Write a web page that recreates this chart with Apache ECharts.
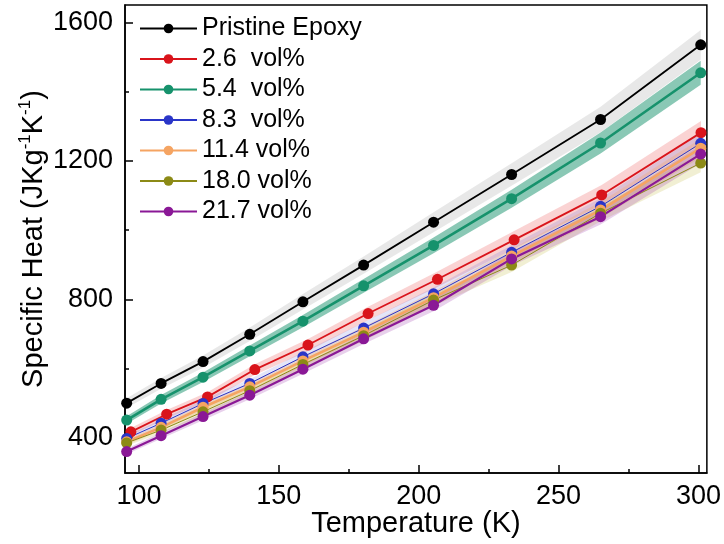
<!DOCTYPE html>
<html>
<head>
<meta charset="utf-8">
<script src="https://cdn.jsdelivr.net/npm/echarts@6/dist/echarts.min.js"></script>
<style>
  html, body { margin: 0; padding: 0; background: #fff; }
  #chart { width: 724px; height: 544px; }
</style>
</head>
<body>
<div id="chart"></div>
<script>
// temperatures (K)
const tempCommon = [95.6, 107.9, 122.9, 139.6, 158.6, 180.3, 205.3, 233.2, 265.0, 300.8]
const tempRed = [97.1, 109.9, 124.5, 141.4, 160.4, 181.9, 206.7, 234.1, 265.4, 300.9]

// specific heat (J kg-1 K-1)
const pristine = [500, 557, 620, 699, 793, 899, 1023, 1161, 1320, 1536]
const vol26 = [417, 468, 518, 597, 668, 759, 858, 972, 1102, 1282]
const vol54 = [451, 511, 575, 651, 737, 839, 956, 1091, 1252, 1455]
const vol83 = [398, 442, 499, 557, 634, 717, 816, 936, 1069, 1251]
const vol114 = [388, 430, 488, 547, 622, 705, 805, 925, 1058, 1237]
const vol180 = [385, 422, 475, 536, 612, 695, 798, 899, 1049, 1194]
const vol217 = [360, 406, 461, 523, 598, 686, 783, 917, 1039, 1220]

const names = ['Pristine Epoxy', '2.6  vol%', '5.4  vol%', '8.3  vol%', '11.4 vol%', '18.0 vol%', '21.7 vol%']
const values = [pristine, vol26, vol54, vol83, vol114, vol180, vol217]
const temps = [tempCommon, tempRed, tempCommon, tempCommon, tempCommon, tempCommon, tempCommon]
// half width of the shaded band, as a fraction of the value
const bandFrac = [0.028, 0.026, 0.024, 0.022, 0.022, 0.022, 0.022]

const xTicks = [100, 150, 200, 250, 300]
const xMinorTicks = [125, 175, 225, 275]
const yTicks = [400, 800, 1200, 1600]
const yMinorTicks = [600, 1000, 1400]

const lineColors = ['#000000', '#d9141b', '#16926c', '#2a35c8', '#f5a462', '#8c8a16', '#8a1896']
const bandColors = ['rgba(0,0,0,0.09)', 'rgba(235,80,80,0.25)', 'rgba(22,146,108,0.5)',
  'rgba(60,70,220,0.14)', 'rgba(245,164,98,0.3)', 'rgba(200,190,80,0.25)', 'rgba(150,40,170,0.22)']
const lineWidths = [1.8, 1.8, 2.6, 1, 2.6, 1, 2.2]

const chart = echarts.init(document.getElementById('chart'))
const font = 'Liberation Sans, Arial, sans-serif'

// shaded bands: one polygon per series, drawn through the axis scales
const bandSeries = {
  type: 'custom',
  silent: true,
  z: 1,
  data: values.map((v, i) => [i]),
  renderItem: function (params, api) {
    const i = api.value(0)
    const upper = []
    const lower = []
    values[i].forEach((v, k) => {
      upper.push(api.coord([temps[i][k], v * (1 + bandFrac[i])]))
      lower.push(api.coord([temps[i][k], v * (1 - bandFrac[i])]))
    })
    return {
      type: 'polygon',
      shape: { points: upper.concat(lower.reverse()) },
      style: { fill: bandColors[i] }
    }
  }
}

const lineSeries = values.map((vals, i) => ({
  name: names[i],
  type: 'line',
  data: vals.map((v, k) => [temps[i][k], v]),
  symbol: 'circle',
  symbolSize: 11,
  color: lineColors[i],
  lineStyle: { color: lineColors[i], width: lineWidths[i] },
  itemStyle: { color: lineColors[i] },
  z: 3
}))

const axisLineStyle = { color: '#000', width: 1.5 }

const option = {
  animation: false,
  backgroundColor: '#fff',
  grid: {
    left: 125, right: 17, top: 5, bottom: 71,
    show: true, borderColor: '#000', borderWidth: 1.5, backgroundColor: 'transparent'
  },
  legend: {
    data: names,
    orient: 'vertical',
    left: 134,
    top: 11,
    itemWidth: 57,
    itemHeight: 12,
    itemGap: 5.5,
    textStyle: { fontFamily: font, fontSize: 25, color: '#000', lineHeight: 25 }
  },
  xAxis: [
    {
      type: 'value', min: 95, max: 303,
      name: 'Temperature (K)', nameLocation: 'middle', nameGap: 36, nameMoveOverlap: false,
      nameTextStyle: { fontFamily: font, fontSize: 29, color: '#000' },
      axisLine: { show: true, lineStyle: axisLineStyle },
      axisTick: { show: true, inside: true, length: 8, customValues: xTicks, lineStyle: axisLineStyle },
      axisLabel: { customValues: xTicks, fontFamily: font, fontSize: 27, color: '#000', margin: 10 },
      splitLine: { show: false }
    },
    {
      type: 'value', min: 95, max: 303, position: 'bottom',
      axisLine: { show: false },
      axisTick: { show: true, inside: true, length: 4, customValues: xMinorTicks, lineStyle: axisLineStyle },
      axisLabel: { show: false },
      splitLine: { show: false }
    }
  ],
  yAxis: [
    {
      type: 'value', min: 298, max: 1651,
      name: '{a|Specific Heat (JKg}{s|-1}{a|K}{s|-1}{a|)}',
      nameLocation: 'middle', nameGap: 74, nameMoveOverlap: false,
      nameTextStyle: {
        fontFamily: font, color: '#000',
        rich: {
          a: { fontFamily: font, fontSize: 29, color: '#000', lineHeight: 34 },
          s: { fontFamily: font, fontSize: 17, color: '#000', verticalAlign: 'top' }
        }
      },
      axisLine: { show: true, lineStyle: axisLineStyle },
      axisTick: { show: true, inside: true, length: 8, customValues: yTicks, lineStyle: axisLineStyle },
      axisLabel: {
        customValues: yTicks, fontFamily: font, fontSize: 27, color: '#000', margin: 12,
        formatter: (v) => String(v)
      },
      splitLine: { show: false }
    },
    {
      type: 'value', min: 298, max: 1651, position: 'left',
      axisLine: { show: false },
      axisTick: { show: true, inside: true, length: 4, customValues: yMinorTicks, lineStyle: axisLineStyle },
      axisLabel: { show: false },
      splitLine: { show: false }
    }
  ],
  series: [bandSeries].concat(lineSeries)
}
chart.setOption(option)
</script>
</body>
</html>
